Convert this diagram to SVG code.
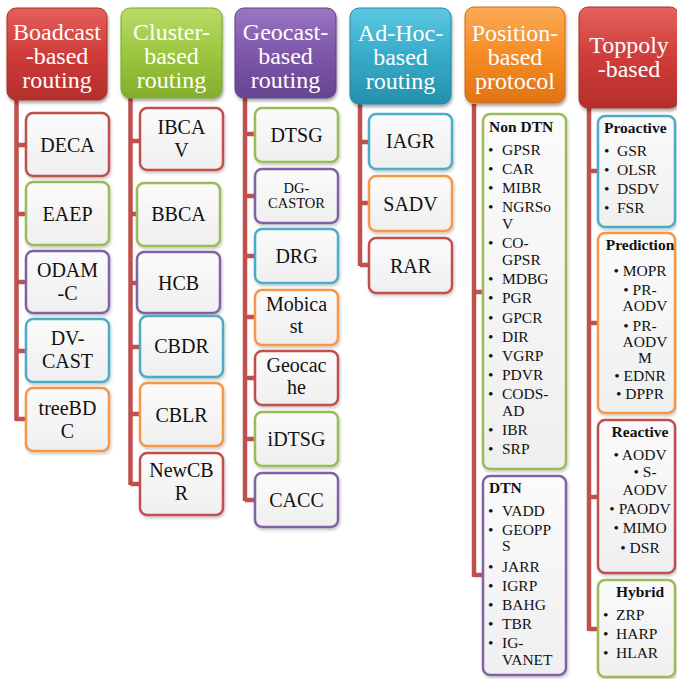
<svg xmlns="http://www.w3.org/2000/svg" width="677" height="679" viewBox="0 0 677 679">
<defs>
<linearGradient id="gRed" x1="0" y1="0" x2="0" y2="1"><stop offset="0" stop-color="#e4605d"/><stop offset="0.5" stop-color="#cf3c39"/><stop offset="1" stop-color="#b52e2c"/></linearGradient>
<linearGradient id="gGreen" x1="0" y1="0" x2="0" y2="1"><stop offset="0" stop-color="#b8dc6a"/><stop offset="0.5" stop-color="#9cc73f"/><stop offset="1" stop-color="#84ad2c"/></linearGradient>
<linearGradient id="gPurple" x1="0" y1="0" x2="0" y2="1"><stop offset="0" stop-color="#9a76c2"/><stop offset="0.5" stop-color="#7e57ab"/><stop offset="1" stop-color="#674590"/></linearGradient>
<linearGradient id="gCyan" x1="0" y1="0" x2="0" y2="1"><stop offset="0" stop-color="#5cc8e2"/><stop offset="0.5" stop-color="#36abc9"/><stop offset="1" stop-color="#2690ad"/></linearGradient>
<linearGradient id="gOrange" x1="0" y1="0" x2="0" y2="1"><stop offset="0" stop-color="#fbab55"/><stop offset="0.5" stop-color="#f68b24"/><stop offset="1" stop-color="#e07414"/></linearGradient>
<linearGradient id="gBox" x1="0" y1="0" x2="0" y2="1"><stop offset="0" stop-color="#fbfbfb"/><stop offset="1" stop-color="#efefef"/></linearGradient>
<filter id="sh" x="-10%" y="-10%" width="130%" height="130%"><feDropShadow dx="1" dy="2.5" stdDeviation="1.8" flood-color="#000" flood-opacity="0.35"/></filter>
<filter id="sh2" x="-10%" y="-10%" width="130%" height="130%"><feDropShadow dx="1" dy="2" stdDeviation="1.5" flood-color="#000" flood-opacity="0.22"/></filter>
<style>
text{font-family:'Liberation Serif','Times New Roman','DejaVu Serif',serif}
.hd{stroke-width:1;filter:url(#sh)}
.ht{font-size:24px;fill:#fff;text-anchor:middle}
.bx{fill:url(#gBox);stroke-width:2.5;filter:url(#sh2)}
.bt{font-size:20px;fill:#111;text-anchor:middle}
.st{font-size:15.5px;fill:#111}
.c{text-anchor:middle}
.b{font-weight:bold}
.red{stroke:#c0504d}.green{stroke:#9bbb59}.purple{stroke:#8064a2}.cyan{stroke:#4bacc6}.orange{stroke:#f79646}
.ln{stroke:#c0504d;stroke-width:4.5;fill:none;stroke-linejoin:miter}
</style>
</defs>

<g id="connectors">
<path class="ln" d="M16.5 100V421M16.5 145H27M16.5 214H27M16.5 282H27M16.5 351H27M16.5 419H27"/>
<path class="ln" d="M130.5 97V485M130.5 141H140M130.5 214H138M130.5 283H138M130.5 347H140M130.5 414H140M130.5 484H140"/>
<path class="ln" d="M245 98V501M245 134H256M245 196H256M245 256H256M245 317H256M245 378H256M245 439H256M245 500H256"/>
<path class="ln" d="M360 104V266M360 142H370M360 203H370M360 265H370"/>
<path class="ln" d="M474 104V577M474 292H484M474 575H484"/>
<path class="ln" d="M589 108V631M589 171H599M589 323H599M589 497H599M589 629H599"/>
</g>

<g id="h-broadcast"><rect class="hd" x="7" y="8" width="100" height="92" rx="9" fill="url(#gRed)" stroke="#a8302e"/>
<text class="ht" x="57" y="40">Boadcast</text><text class="ht" x="57" y="64">-based</text><text class="ht" x="57" y="88">routing</text></g>
<g id="h-cluster"><rect class="hd" x="121" y="8" width="101" height="90" rx="9" fill="url(#gGreen)" stroke="#7fa52b"/>
<text class="ht" x="171.5" y="40">Cluster-</text><text class="ht" x="171.5" y="64">based</text><text class="ht" x="171.5" y="88">routing</text></g>
<g id="h-geocast"><rect class="hd" x="235" y="8" width="101" height="90" rx="9" fill="url(#gPurple)" stroke="#5f4086"/>
<text class="ht" x="285.5" y="40">Geocast-</text><text class="ht" x="285.5" y="64">based</text><text class="ht" x="285.5" y="88">routing</text></g>
<g id="h-adhoc"><rect class="hd" x="350" y="8" width="101" height="96" rx="9" fill="url(#gCyan)" stroke="#2386a1"/>
<text class="ht" x="400.5" y="41">Ad-Hoc-</text><text class="ht" x="400.5" y="65">based</text><text class="ht" x="400.5" y="89">routing</text></g>
<g id="h-position"><rect class="hd" x="465" y="7" width="100" height="96" rx="9" fill="url(#gOrange)" stroke="#d06c12"/>
<text class="ht" x="515" y="41">Position-</text><text class="ht" x="515" y="65">based</text><text class="ht" x="515" y="89">protocol</text></g>
<g id="h-topology"><rect class="hd" x="579" y="7" width="100" height="101" rx="9" fill="url(#gRed)" stroke="#a8302e"/>
<text class="ht" x="629" y="53">Toppoly</text><text class="ht" x="629" y="77">-based</text></g>

<g id="n-deca"><rect class="bx red" x="26" y="113" width="83" height="63" rx="7"/><text class="bt" x="67.5" y="151.5">DECA</text></g>
<g id="n-eaep"><rect class="bx green" x="26" y="182" width="83" height="63" rx="7"/><text class="bt" x="67.5" y="220.5">EAEP</text></g>
<g id="n-odamc"><rect class="bx purple" x="26" y="251" width="83" height="62" rx="7"/><text class="bt" x="67.5" y="277">ODAM</text><text class="bt" x="67.5" y="300">-C</text></g>
<g id="n-dvcast"><rect class="bx cyan" x="26" y="319" width="83" height="63" rx="7"/><text class="bt" x="67.5" y="345">DV-</text><text class="bt" x="67.5" y="368">CAST</text></g>
<g id="n-treebdc"><rect class="bx orange" x="26" y="388" width="83" height="63" rx="7"/><text class="bt" x="67.5" y="415">treeBD</text><text class="bt" x="67.5" y="438">C</text></g>

<g id="n-ibcav"><rect class="bx red" x="140" y="108" width="83" height="62" rx="7"/><text class="bt" x="181.5" y="134">IBCA</text><text class="bt" x="181.5" y="157">V</text></g>
<g id="n-bbca"><rect class="bx green" x="137" y="183" width="83" height="63" rx="7"/><text class="bt" x="178.5" y="221">BBCA</text></g>
<g id="n-hcb"><rect class="bx purple" x="137" y="252" width="83" height="61" rx="7"/><text class="bt" x="178.5" y="289.5">HCB</text></g>
<g id="n-cbdr"><rect class="bx cyan" x="140" y="316" width="83" height="61" rx="7"/><text class="bt" x="181.5" y="353">CBDR</text></g>
<g id="n-cblr"><rect class="bx orange" x="140" y="383" width="83" height="63" rx="7"/><text class="bt" x="181.5" y="421.5">CBLR</text></g>
<g id="n-newcbr"><rect class="bx red" x="140" y="453" width="83" height="62" rx="7"/><text class="bt" x="181.5" y="477">NewCB</text><text class="bt" x="181.5" y="500">R</text></g>

<g id="n-dtsg"><rect class="bx green" x="255" y="108" width="83" height="54" rx="7"/><text class="bt" x="296.5" y="142">DTSG</text></g>
<g id="n-dgcastor"><rect class="bx purple" x="255" y="169" width="83" height="54" rx="7"/><text class="bt" x="296.5" y="193" style="font-size:14.5px">DG-</text><text class="bt" x="296.5" y="208" style="font-size:14.5px">CASTOR</text></g>
<g id="n-drg"><rect class="bx cyan" x="255" y="229" width="83" height="54" rx="7"/><text class="bt" x="296.5" y="263">DRG</text></g>
<g id="n-mobicast"><rect class="bx orange" x="255" y="290" width="83" height="55" rx="7"/><text class="bt" x="296.5" y="311">Mobica</text><text class="bt" x="296.5" y="333">st</text></g>
<g id="n-geocache"><rect class="bx red" x="255" y="351" width="83" height="54" rx="7"/><text class="bt" x="296.5" y="372">Geocac</text><text class="bt" x="296.5" y="394">he</text></g>
<g id="n-idtsg"><rect class="bx green" x="255" y="412" width="83" height="54" rx="7"/><text class="bt" x="296.5" y="446">iDTSG</text></g>
<g id="n-cacc"><rect class="bx purple" x="255" y="473" width="83" height="54" rx="7"/><text class="bt" x="296.5" y="507">CACC</text></g>

<g id="n-iagr"><rect class="bx cyan" x="369" y="114" width="83" height="55" rx="7"/><text class="bt" x="410.5" y="148">IAGR</text></g>
<g id="n-sadv"><rect class="bx orange" x="369" y="176" width="83" height="55" rx="7"/><text class="bt" x="410.5" y="210.5">SADV</text></g>
<g id="n-rar"><rect class="bx red" x="369" y="238" width="83" height="55" rx="7"/><text class="bt" x="410.5" y="272.5">RAR</text></g>

<g id="n-nondtn"><rect class="bx green" x="483" y="114" width="83" height="355" rx="7"/>
<text class="st b" x="489" y="132">Non DTN</text>
<text class="st" x="488" y="155">•</text><text class="st" x="502" y="155">GPSR</text>
<text class="st" x="488" y="174">•</text><text class="st" x="502" y="174">CAR</text>
<text class="st" x="488" y="193">•</text><text class="st" x="502" y="193">MIBR</text>
<text class="st" x="488" y="212">•</text><text class="st" x="502" y="212">NGRSo</text><text class="st" x="502" y="229">V</text>
<text class="st" x="488" y="248">•</text><text class="st" x="502" y="248">CO-</text><text class="st" x="502" y="265">GPSR</text>
<text class="st" x="488" y="284">•</text><text class="st" x="502" y="284">MDBG</text>
<text class="st" x="488" y="303">•</text><text class="st" x="502" y="303">PGR</text>
<text class="st" x="488" y="323">•</text><text class="st" x="502" y="323">GPCR</text>
<text class="st" x="488" y="342">•</text><text class="st" x="502" y="342">DIR</text>
<text class="st" x="488" y="361">•</text><text class="st" x="502" y="361">VGRP</text>
<text class="st" x="488" y="380">•</text><text class="st" x="502" y="380">PDVR</text>
<text class="st" x="488" y="399">•</text><text class="st" x="502" y="399">CODS-</text><text class="st" x="502" y="416">AD</text>
<text class="st" x="488" y="435">•</text><text class="st" x="502" y="435">IBR</text>
<text class="st" x="488" y="454">•</text><text class="st" x="502" y="454">SRP</text>
</g>
<g id="n-dtn"><rect class="bx purple" x="483" y="476" width="83" height="199" rx="7"/>
<text class="st b" x="489" y="493">DTN</text>
<text class="st" x="488" y="516">•</text><text class="st" x="502" y="516">VADD</text>
<text class="st" x="488" y="535">•</text><text class="st" x="502" y="535">GEOPP</text><text class="st" x="502" y="551">S</text>
<text class="st" x="488" y="572">•</text><text class="st" x="502" y="572">JARR</text>
<text class="st" x="488" y="591">•</text><text class="st" x="502" y="591">IGRP</text>
<text class="st" x="488" y="610">•</text><text class="st" x="502" y="610">BAHG</text>
<text class="st" x="488" y="629">•</text><text class="st" x="502" y="629">TBR</text>
<text class="st" x="488" y="648">•</text><text class="st" x="502" y="648">IG-</text><text class="st" x="502" y="665">VANET</text>
</g>

<g id="n-proactive"><rect class="bx cyan" x="598" y="116" width="77" height="111" rx="7"/>
<text class="st b" x="604" y="133">Proactive</text>
<text class="st" x="604" y="156">•</text><text class="st" x="617" y="156">GSR</text>
<text class="st" x="604" y="175">•</text><text class="st" x="617" y="175">OLSR</text>
<text class="st" x="604" y="194">•</text><text class="st" x="617" y="194">DSDV</text>
<text class="st" x="604" y="213">•</text><text class="st" x="617" y="213">FSR</text>
</g>
<g id="n-prediction"><rect class="bx orange" x="598" y="233" width="77" height="180" rx="7"/>
<text class="st b c" x="640" y="250">Prediction</text>
<text class="st c" x="640" y="276">• MOPR</text>
<text class="st c" x="640" y="295">• PR-</text><text class="st c" x="645" y="311">AODV</text>
<text class="st c" x="640" y="331">• PR-</text><text class="st c" x="645" y="347">AODV</text><text class="st c" x="645" y="363">M</text>
<text class="st c" x="640" y="381">• EDNR</text>
<text class="st c" x="640" y="399">• DPPR</text>
</g>
<g id="n-reactive"><rect class="bx red" x="598" y="420" width="77" height="153" rx="7"/>
<text class="st b c" x="640" y="437">Reactive</text>
<text class="st c" x="640" y="460">• AODV</text>
<text class="st c" x="645" y="477">• S-</text><text class="st c" x="645" y="495">AODV</text>
<text class="st c" x="640" y="514">• PAODV</text>
<text class="st c" x="640" y="533">• MIMO</text>
<text class="st c" x="640" y="553">• DSR</text>
</g>
<g id="n-hybrid"><rect class="bx green" x="598" y="580" width="77" height="97" rx="7"/>
<text class="st b c" x="640" y="597">Hybrid</text>
<text class="st" x="603" y="620">•</text><text class="st" x="616" y="620">ZRP</text>
<text class="st" x="603" y="639">•</text><text class="st" x="616" y="639">HARP</text>
<text class="st" x="603" y="658">•</text><text class="st" x="616" y="658">HLAR</text>
</g>
</svg>
